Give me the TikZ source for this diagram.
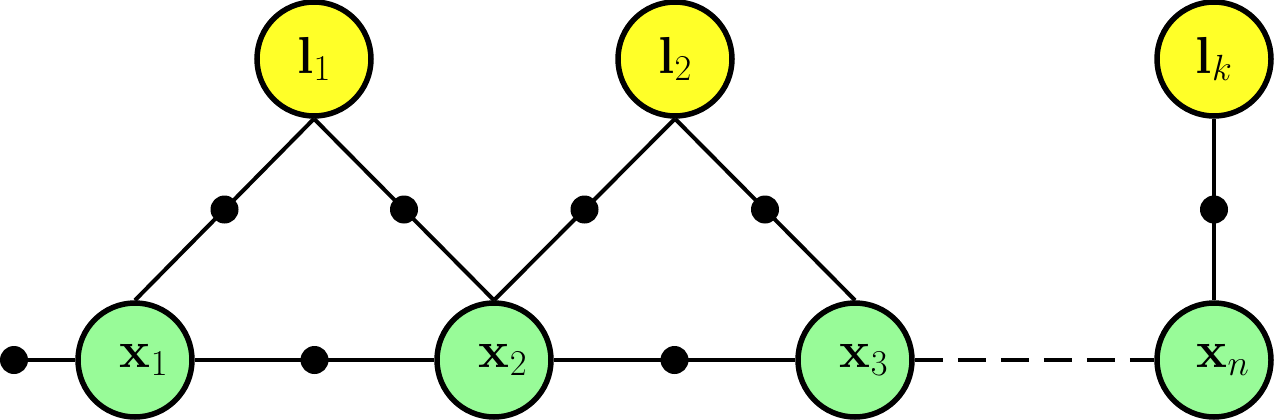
\RequirePackage{fix-cm}
\documentclass[tikz,border=0pt]{standalone}
\definecolor{lyellow}{RGB}{255,255,40}
\definecolor{lgreen}{RGB}{152,251,152}
\tikzset{
  bignode/.style={circle, draw=black, line width=5.5pt, minimum size=114pt, inner sep=0pt,
    font=\fontsize{52}{60}\selectfont},
  lnode/.style={bignode, fill=lyellow},
  xnode/.style={bignode, fill=lgreen},
  dotnode/.style={circle, fill=black, inner sep=0pt, minimum size=28pt},
  conn/.style={line width=4pt},
}
\begin{document}
\begin{tikzpicture}[x=1pt, y=-1pt]
\useasboundingbox (0,0) rectangle (1274,420);
\node[lnode] (l1) at (314,59) {$\mathbf{l}_1$};
\node[lnode] (l2) at (675,59) {$\mathbf{l}_2$};
\node[lnode] (lk) at (1214,59) {$\mathbf{l}_k$};
\node[xnode] (x1) at (135,360) {\kern18pt$\mathbf{x}_1$};
\node[xnode] (x2) at (494,360) {\kern18pt$\mathbf{x}_2$};
\node[xnode] (x3) at (855,360) {\kern18pt$\mathbf{x}_3$};
\node[xnode] (xn) at (1214,360) {\kern18pt$\mathbf{x}_n$};
\node[dotnode] (d0) at (14,360) {};
\draw[conn] (d0) -- (x1.west);
\draw[conn] (x1.east) -- (x2.west) node[midway, dotnode] (dh1) {};
\draw[conn] (x2.east) -- (x3.west) node[midway, dotnode] (dh2) {};
\draw[conn, dash pattern=on 28pt off 15pt] (x3.east) -- (xn.west);
\draw[conn] (l1.south) -- (x1.north) node[midway, dotnode] (da) {};
\draw[conn] (l1.south) -- (x2.north) node[midway, dotnode] (db) {};
\draw[conn] (l2.south) -- (x2.north) node[midway, dotnode] (dc) {};
\draw[conn] (l2.south) -- (x3.north) node[midway, dotnode] (dd) {};
\draw[conn] (lk.south) -- (xn.north) node[midway, dotnode] (de) {};
\end{tikzpicture}
\end{document}
